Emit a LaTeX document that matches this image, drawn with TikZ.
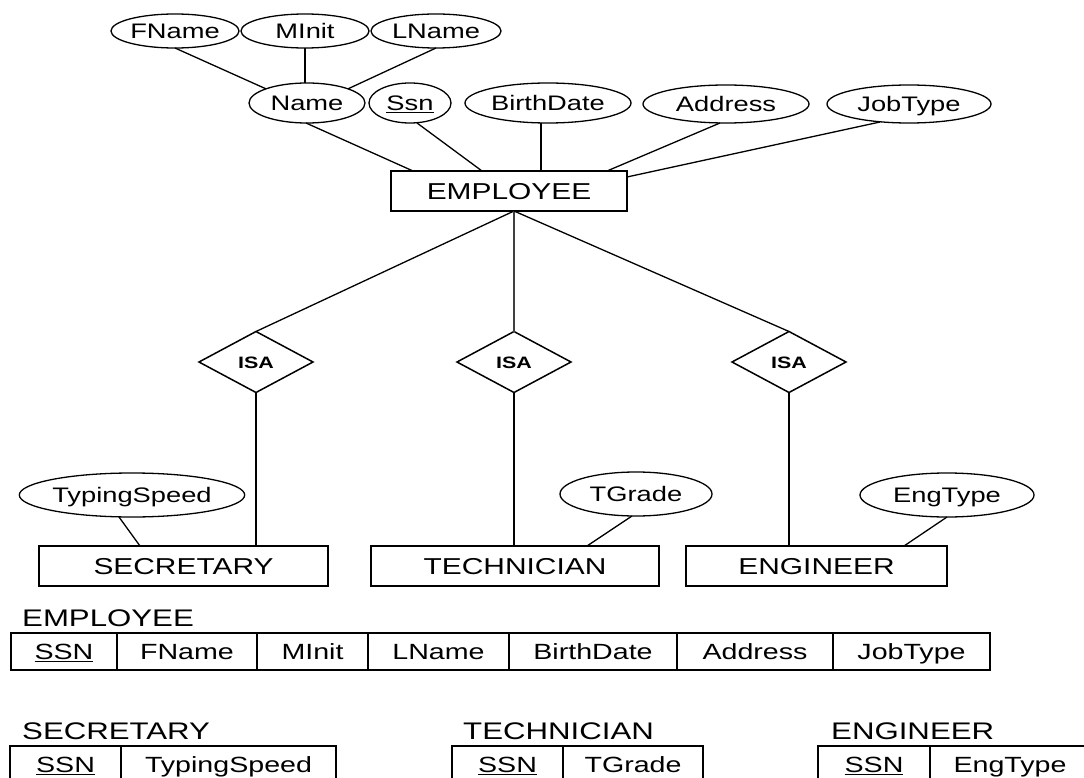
\documentclass[tikz,border=0pt]{standalone}
\usepackage{fontspec}
\setmainfont{Liberation Sans}[FakeStretch=1.3]
\usetikzlibrary{shapes.geometric}
\begin{document}
\begin{tikzpicture}[x=1pt,y=-1pt,
  attr/.style={ellipse, draw, line width=1.3pt, inner sep=0pt, outer sep=0pt,
    font=\fontsize{21}{25}\selectfont, text height=16pt, text depth=1pt},
  entity/.style={rectangle, draw, line width=1.4pt, inner sep=0pt, outer sep=0pt,
    minimum height=40pt, font=\fontsize{23}{27}\selectfont, text height=17.5pt, text depth=1pt},
  isa/.style={diamond, draw, line width=1.5pt, inner sep=0pt, outer sep=0pt,
    minimum width=114pt, minimum height=61pt, font=\fontsize{16.5}{20}\selectfont\bfseries,
    text height=13pt, text depth=1pt},
  cell/.style={rectangle, draw, line width=1.4pt, inner sep=0pt, outer sep=0pt,
    minimum height=37pt, font=\fontsize{22}{26}\selectfont, text height=16.8pt, text depth=1pt},
  tlabel/.style={anchor=base west, inner sep=0pt, font=\fontsize{24}{28}\selectfont},
  link/.style={line width=1.3pt},
  sublink/.style={line width=1.9pt}
]
\useasboundingbox (0,0) rectangle (1084,778);
\clip (0,0) rectangle (1084,778);

% ---------- EER diagram ----------
\node[attr, minimum width=128pt, minimum height=34pt] (fname) at (175,31) {FName};
\node[attr, minimum width=128pt, minimum height=34pt] (minit) at (305,31) {MInit};
\node[attr, minimum width=130pt, minimum height=34pt] (lname) at (436,31) {LName};

\node[attr, minimum width=116pt, minimum height=40pt] (name) at (307,103) {Name};
\node[attr, minimum width=82pt, minimum height=40pt] (ssn) at (410,103) {\underline{Ssn}};
\node[attr, minimum width=166pt, minimum height=40pt] (bdate) at (548,103) {BirthDate};
\node[attr, minimum width=166pt, minimum height=38pt] (addr) at (726,104) {Address};
\node[attr, minimum width=164pt, minimum height=38pt] (jtype) at (909,104) {JobType};

\node[entity, minimum width=236pt] (emp) at (509,191) {EMPLOYEE};

\draw[link] (fname.south) -- (name.north west);
\draw[link] (minit.south) -- (minit.south |- name.north);
\draw[link] (lname.south) -- (name.north east);

\draw[link] ([xshift=-1pt]name.south) -- ([xshift=22pt]emp.north west);
\draw[link] ([xshift=7pt]ssn.south) -- ([xshift=91pt]emp.north west);
\draw[link] ([xshift=-7pt]bdate.south) -- ([xshift=-7pt]bdate.south |- emp.north);
\draw[link] ([xshift=-6pt]addr.south) -- ([xshift=-20pt]emp.north east);
\draw[link] ([xshift=-29pt, yshift=1pt]jtype.south) -- ([yshift=-6pt]emp.north east);

\node[isa] (isaS) at (256,362) {ISA};
\node[isa] (isaT) at (514,362) {ISA};
\node[isa] (isaE) at (789,362) {ISA};

\coordinate (hub) at (isaT.north |- emp.south);
\draw[link] (hub) -- (isaS.north);
\draw[link, black!75] (hub) -- (isaT.north);
\draw[link] (hub) -- (isaE.north);

\node[entity, minimum width=289pt] (sec) at (183.5,566) {SECRETARY};
\node[entity, minimum width=288pt] (tech) at (515,566) {TECHNICIAN};
\node[entity, minimum width=261pt] (eng) at (816.5,566) {ENGINEER};

\draw[sublink] (isaS.south) -- (isaS.south |- sec.north);
\draw[sublink] (isaT.south) -- (isaT.south |- tech.north);
\draw[sublink] (isaE.south) -- (isaE.south |- eng.north);

\node[attr, minimum width=174pt, minimum height=44pt] (tspeed) at (132,495) {TypingSpeed};
\node[attr, minimum width=152pt, minimum height=44pt] (tgrade) at (636,494) {TGrade};
\node[attr, minimum width=174pt, minimum height=44pt] (etype) at (947,495) {EngType};

\draw[link] ([xshift=-13pt]tspeed.south) -- ([xshift=101pt]sec.north west);
\draw[link] ([xshift=-4pt]tgrade.south) -- ([xshift=216pt]tech.north west);
\draw[link] (etype.south) -- ([xshift=218pt]eng.north west);

% ---------- relation schemas ----------
\node[tlabel] (lEmp) at (22,626) {EMPLOYEE};
\node[cell, minimum width=106pt] (r1) at (64,651.5) {\underline{SSN}};
\node[cell, minimum width=140pt] (r2) at (187,651.5) {FName};
\node[cell, minimum width=111pt] (r3) at (312.5,651.5) {MInit};
\node[cell, minimum width=141pt] (r4) at (438.5,651.5) {LName};
\node[cell, minimum width=168pt] (r5) at (593,651.5) {BirthDate};
\node[cell, minimum width=156pt] (r6) at (755,651.5) {Address};
\node[cell, minimum width=157pt] (r7) at (911.5,651.5) {JobType};

\node[tlabel] (lSec) at (22,739) {SECRETARY};
\node[cell, minimum width=111pt] (s1) at (65.5,764.5) {\underline{SSN}};
\node[cell, minimum width=215pt] (s2) at (228.5,764.5) {TypingSpeed};

\node[tlabel] (lTech) at (463,739) {TECHNICIAN};
\node[cell, minimum width=111pt] (t1) at (507.5,764.5) {\underline{SSN}};
\node[cell, minimum width=140pt] (t2) at (633,764.5) {TGrade};

\node[tlabel] (lEng) at (831,739) {ENGINEER};
\node[cell, minimum width=112pt] (g1) at (874,764.5) {\underline{SSN}};
\node[cell, minimum width=160pt] (g2) at (1010,764.5) {EngType};
\end{tikzpicture}
\end{document}
